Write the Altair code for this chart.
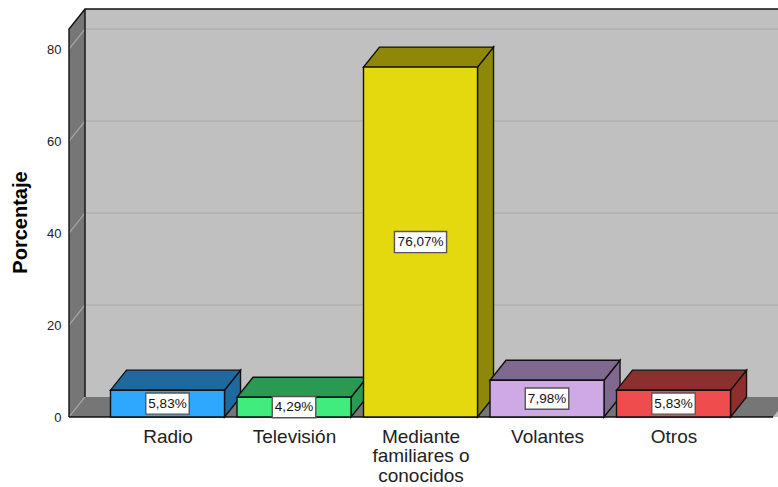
import altair as alt
import pandas as pd

# Survey results: how respondents heard about the service
categories = ["Radio", "Televisión", "Mediante\nfamiliares o\nconocidos", "Volantes", "Otros"]
values = [5.83, 4.29, 76.07, 7.98, 5.83]
front_colors = ["#2EA8FF", "#40EC7E", "#E4D80E", "#CFA9E6", "#EF4C4E"]
shade_colors = ["#1E6A9E", "#2A9A52", "#8F8708", "#80698E", "#8E2F2F"]
y_ticks = [0, 20, 40, 60, 80]

# Scale extents and the fake-perspective depth, in data units
X_MIN, X_MAX = -0.7787, 4.826
Y_MAX = 88.7
WALL_TOP = 84.35
FLOOR_END = 4.787
DEPTH_X = 0.1265
DEPTH_Y = 4.35
BAR_HALF = 0.4506

label_expr = "split({}[datum.value], '|')".format(
    [c.replace("\n", "|") for c in categories]
)
X = alt.X(
    "x:Q",
    scale=alt.Scale(domain=[X_MIN, X_MAX], nice=False, zero=False),
    axis=alt.Axis(
        values=list(range(len(categories))), labelExpr=label_expr, domain=False, ticks=False,
        grid=False, title=None, labelFontSize=19, labelFont="Liberation Sans", labelColor="#222222",
        labelPadding=10, labelLineHeight=19.5, labelBaseline="top", labelAngle=0, labelFlush=False,
        labelOverlap=False,
    ),
)
Y = alt.Y(
    "lo:Q",
    scale=alt.Scale(domain=[0, Y_MAX], nice=False),
    axis=alt.Axis(
        values=y_ticks, domain=False, ticks=False, grid=False, title="Porcentaje",
        labelFontSize=13, labelFont="Liberation Sans", labelColor="#222222", labelPadding=8,
        titleFontSize=20, titleFont="Liberation Sans", titleFontWeight="bold", titleColor="#000000",
        titleX=-39, titleY=213,
    ),
)
Y2 = alt.Y2("hi:Q")


def polygon(points, fill, stroke=None, width=1.4):
    """Filled shape from (x, lower, upper) outline samples."""
    df = pd.DataFrame(points, columns=["x", "lo", "hi"])
    props = dict(fill=fill, opacity=1, interpolate="linear")
    if stroke:
        props.update(stroke=stroke, strokeWidth=width, strokeJoin="miter")
    return alt.Chart(df).mark_area(**props).encode(x=X, y=Y, y2=Y2)


def polyline(points, color, width=1.4):
    """Open line through (x, y) points, drawn in the listed order."""
    df = pd.DataFrame(
        [(x, y, i) for i, (x, y) in enumerate(points)], columns=["x", "lo", "seq"]
    )
    return (
        alt.Chart(df)
        .mark_line(color=color, strokeWidth=width, interpolate="linear")
        .encode(x=X, y=Y, order="seq:Q")
    )


layers = []

# Back wall, left wall and floor
layers.append(polygon([(X_MIN + DEPTH_X, 0, Y_MAX), (X_MAX + 0.2, 0, Y_MAX)], "#C0C0C0"))
layers.append(polygon([(X_MIN, 0, WALL_TOP), (X_MIN + DEPTH_X, DEPTH_Y, Y_MAX)], "#767676"))
layers.append(polygon([
    (X_MIN, 0, 0), (X_MIN + DEPTH_X, 0, DEPTH_Y),
    (FLOOR_END, 0, DEPTH_Y), (FLOOR_END + DEPTH_X, DEPTH_Y, DEPTH_Y),
], "#767676"))

# Gridlines bending from the left wall onto the back wall
for t in y_ticks:
    layers.append(polyline([(X_MIN, t), (X_MIN + DEPTH_X, t + DEPTH_Y)], "#A8A8A8", 1.2))
    if t > 0:
        layers.append(polyline([(X_MIN + DEPTH_X, t + DEPTH_Y), (X_MAX + 0.2, t + DEPTH_Y)], "#B0B0B0", 1.4))

# Wall outlines and baseline
layers.append(polyline([
    (X_MIN, 0), (X_MIN, WALL_TOP), (X_MIN + DEPTH_X, Y_MAX), (X_MAX + 0.2, Y_MAX),
], "#111111"))
layers.append(polyline([(X_MIN + DEPTH_X, Y_MAX), (X_MIN + DEPTH_X, DEPTH_Y)], "#111111"))
layers.append(polyline([(X_MIN, 0), (FLOOR_END, 0)], "#111111"))

# Bars, left to right so that each one overlaps its neighbour's side face
for i, (v, front, shade) in enumerate(zip(values, front_colors, shade_colors)):
    x0, x1 = i - BAR_HALF, i + BAR_HALF
    layers.append(polygon([
        (x1, 0, v), (x1 + DEPTH_X, DEPTH_Y, v + DEPTH_Y),
    ], shade, "#111111"))
    layers.append(polygon([
        (x0, v, v), (x0 + DEPTH_X, v, v + DEPTH_Y),
        (x1, v, v + DEPTH_Y), (x1 + DEPTH_X, v + DEPTH_Y, v + DEPTH_Y),
    ], shade, "#111111"))
    layers.append(polygon([(x0, 0, v), (x1, 0, v)], front, "#111111"))

# Value labels in white boxes at each bar's mid-height
for i, v in enumerate(values):
    text = f"{v:.2f}%".replace(".", ",")
    half_w = 0.172 if len(text) == 5 else 0.206
    half_h = 2.3
    mid = v / 2
    layers.append(polygon(
        [(i - half_w, mid - half_h, mid + half_h), (i + half_w, mid - half_h, mid + half_h)],
        "#FFFFFF", "#555555", 1.4,
    ))
    layers.append(
        alt.Chart(pd.DataFrame({"x": [i], "lo": [mid], "label": [text]}))
        .mark_text(font="Liberation Sans", fontSize=13.5, color="#111111", baseline="middle", align="center")
        .encode(x=X, y=Y, text="label:N")
    )

chart = (
    alt.layer(*layers)
    .properties(
        width=709,
        height=408,
        autosize=alt.AutoSizeParams(type="none"),
        padding={"left": 69, "top": 9, "right": 0, "bottom": 70},
        background="#FFFFFF",
    )
    .configure_view(stroke=None)
)

chart.save("out.html", embed_options={"renderer": "svg", "actions": False})
